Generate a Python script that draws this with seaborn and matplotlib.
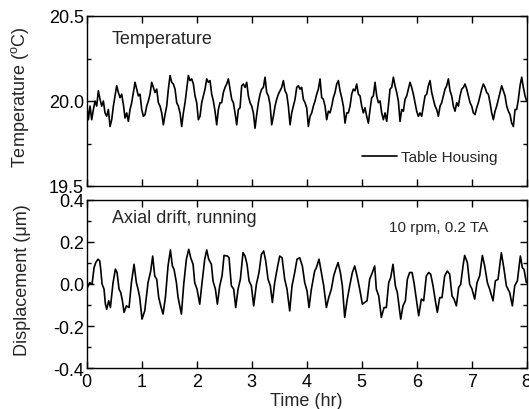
import numpy as np
import pandas as pd
import matplotlib
matplotlib.use("Agg")
import matplotlib.pyplot as plt
from matplotlib.ticker import MultipleLocator
import seaborn as sns

# ---------------- data ----------------
temperature = [
    19.99, 19.89, 19.97, 19.89, 19.95, 20.00, 19.97, 20.06, 20.01, 19.97, 20.00, 19.93, 19.91, 19.95,
    19.85, 19.89, 19.97, 20.03, 20.09, 20.05, 20.02, 20.04, 19.98, 19.90, 19.93, 19.88, 19.95, 19.99,
    20.05, 20.11, 20.07, 20.03, 20.04, 19.95, 19.91, 19.92, 19.97, 20.00, 20.04, 20.11, 20.08, 20.05,
    20.07, 19.99, 19.97, 19.93, 19.86, 19.92, 19.97, 20.07, 20.15, 20.11, 20.10, 20.07, 19.99, 19.97,
    19.93, 19.85, 19.93, 19.99, 20.07, 20.15, 20.12, 20.13, 20.10, 20.03, 19.99, 19.89, 19.91, 19.99,
    20.03, 20.07, 20.13, 20.11, 20.12, 20.04, 20.00, 19.94, 19.86, 19.95, 19.99, 19.99, 20.05, 20.08,
    20.10, 20.13, 20.07,
    20.01, 19.99, 19.93, 19.86, 19.95, 19.96, 20.09, 20.10, 20.08, 20.11, 20.03, 19.99, 19.97, 19.93,
    19.84, 19.92, 19.99, 20.04, 20.07, 20.08, 20.14, 20.05, 20.03, 19.98, 19.86, 19.91, 19.97, 20.01,
    20.04, 20.06, 20.08, 20.12, 20.06, 20.04, 19.97, 19.86, 19.93, 19.97, 20.01, 20.08, 20.09, 20.07,
    20.08, 20.01, 19.99, 19.96, 19.85, 19.91, 19.93, 19.97, 20.00, 20.04, 20.07, 20.13, 20.02, 20.01,
    19.97, 19.89, 19.94, 19.93, 19.97, 20.02, 20.05, 20.10, 20.12, 20.06, 20.02, 19.97, 19.87, 19.93,
    19.93, 19.97, 20.04, 20.07, 20.06, 20.10, 20.04, 20.03, 19.97, 19.93, 19.96, 19.91, 19.87, 19.95,
    20.02, 20.03, 20.11,
    20.03, 19.99, 20.00, 19.93, 19.89, 19.93, 19.88, 19.97, 20.07, 20.08, 20.14, 20.09, 20.05, 20.00,
    19.88, 19.95, 19.94, 20.01, 20.03, 20.07, 20.11, 20.08, 20.04, 19.99, 19.94, 19.91, 19.93, 19.91,
    19.97, 20.03, 20.04, 20.09, 20.12, 20.05, 20.01, 19.97, 19.95, 19.91, 19.97, 19.99, 20.03, 20.07,
    20.09, 20.13, 20.06, 20.03, 19.97, 19.94, 19.99, 19.97, 20.03, 20.07, 20.08, 20.10, 20.07, 20.03,
    19.99, 19.97, 19.93, 19.92, 19.96, 19.99, 20.03, 20.07, 20.10, 20.08, 20.05, 20.04, 19.99, 19.93,
    19.89, 19.94, 19.97, 20.01, 20.05, 20.09, 20.06, 20.03, 19.97, 19.94, 19.92, 19.87, 19.85, 19.95,
    19.95, 20.01, 20.09, 20.14, 20.08, 20.03, 20.00,
]
# uniformly sampled record spanning 0-8 hr
temp_time = np.linspace(0.0, 8.0, len(temperature))

disp_time = [
    0.000, 0.012, 0.055, 0.097, 0.134, 0.164, 0.206, 0.237, 0.255, 0.279, 0.315, 0.340, 0.364, 0.400,
    0.431, 0.479, 0.522, 0.552, 0.588, 0.619, 0.649, 0.679, 0.722, 0.770, 0.813, 0.861, 0.903, 0.934,
    0.964, 1.006, 1.055, 1.115, 1.164, 1.200, 1.237, 1.273, 1.309, 1.346, 1.388, 1.431, 1.479, 1.522,
    1.558, 1.588, 1.631, 1.661, 1.722, 1.764, 1.812, 1.855, 1.891, 1.934, 1.964, 2.006, 2.055, 2.097,
    2.146, 2.182, 2.218, 2.267, 2.297, 2.340, 2.376, 2.418, 2.461, 2.497, 2.558, 2.588,
    2.630, 2.673, 2.709, 2.752, 2.794, 2.842, 2.879, 2.915, 2.952, 2.994, 3.036, 3.085, 3.133, 3.176,
    3.218, 3.255, 3.297, 3.339, 3.376, 3.418, 3.461, 3.509, 3.552, 3.600, 3.642, 3.691, 3.733, 3.782,
    3.824, 3.873, 3.921, 3.964, 4.006, 4.042, 4.085, 4.145, 4.176, 4.224, 4.267, 4.309, 4.358, 4.400,
    4.448, 4.491, 4.527, 4.570, 4.612, 4.648, 4.691, 4.733, 4.782, 4.830, 4.873, 4.915, 4.964, 5.012,
    5.055, 5.097, 5.145, 5.194, 5.236,
    5.266, 5.309, 5.357, 5.406, 5.448, 5.491, 5.527, 5.569, 5.612, 5.648, 5.709, 5.751, 5.794, 5.830,
    5.872, 5.915, 5.951, 5.994, 6.036, 6.085, 6.127, 6.175, 6.218, 6.254, 6.297, 6.339, 6.375, 6.418,
    6.460, 6.509, 6.557, 6.600, 6.642, 6.678, 6.721, 6.763, 6.800, 6.842, 6.872, 6.921, 6.963, 7.006,
    7.054, 7.097, 7.145, 7.194, 7.236, 7.285, 7.327, 7.388, 7.430, 7.479, 7.539, 7.588, 7.630, 7.691,
    7.739, 7.782, 7.830, 7.885, 7.921, 7.951, 7.994,
]
displacement = [
    -0.010, -0.017, 0.006, -0.002, 0.077, 0.101, 0.117, 0.109, 0.069, 0.000, -0.025, -0.096, -0.120, -0.080,
    -0.112, 0.006, 0.070, 0.054, -0.025, -0.041, -0.080, -0.135, -0.104, -0.112, 0.006, 0.093, 0.006, -0.025,
    -0.064, -0.167, -0.128, 0.006, 0.061, 0.132, 0.038, 0.022, -0.064, -0.104, -0.143, -0.064, 0.085, 0.161,
    0.085, 0.069, 0.006, -0.064, -0.143, -0.002, 0.117, 0.164, 0.124, 0.093, 0.006, -0.025, -0.096, 0.006,
    0.117, 0.161, 0.117, 0.093, 0.014, -0.025, -0.096, -0.010, 0.038, 0.135, 0.132, 0.124,
    -0.009, -0.025, -0.112, -0.025, 0.022, 0.148, 0.132, 0.093, 0.014, -0.009, -0.104, -0.002, 0.054, 0.140,
    0.156, 0.109, 0.022, -0.009, -0.088, 0.006, 0.069, 0.132, 0.124, 0.022, -0.025, -0.128, -0.009, 0.054,
    0.117, 0.124, 0.085, 0.006, -0.033, -0.112, -0.025, 0.061, 0.077, 0.117, 0.054, -0.009, -0.112, -0.065,
    -0.025, 0.038, 0.069, 0.101, 0.054, -0.009, -0.159, -0.080, -0.009, 0.054, 0.085, 0.038, -0.025, -0.096,
    -0.088, -0.080, 0.022, 0.054, 0.085,
    -0.025, -0.057, -0.159, -0.112, -0.112, 0.006, 0.030, 0.093, -0.009, -0.041, -0.167, -0.104, -0.080, 0.022,
    0.054, 0.054, 0.006, -0.072, -0.151, -0.072, -0.080, 0.038, 0.054, 0.046, -0.009, -0.080, -0.135, -0.065,
    -0.065, 0.038, 0.061, 0.046, -0.057, -0.072, -0.104, -0.017, -0.002, 0.085, 0.135, 0.101, -0.002, -0.025,
    -0.072, 0.006, 0.038, 0.135, 0.085, 0.006, -0.025, -0.080, 0.014, 0.022, 0.148, 0.069, -0.009, -0.041,
    -0.104, -0.009, 0.014, 0.132, 0.077, 0.069, 0.006,
]

x_ticks = [0, 1, 2, 3, 4, 5, 6, 7, 8]
temp_ticks = [19.5, 20.0, 20.5]
disp_ticks = [-0.4, -0.2, 0.0, 0.2, 0.4]

# ---------------- styling ----------------
sns.set_style("ticks")
plt.rcParams["font.family"] = ["Liberation Sans", "DejaVu Sans"]
plt.rcParams["mathtext.fontset"] = "custom"
plt.rcParams["mathtext.rm"] = "Liberation Sans"
plt.rcParams["mathtext.it"] = "Liberation Sans:italic"
plt.rcParams["axes.edgecolor"] = "black"
plt.rcParams["axes.linewidth"] = 1.0

W, H = 529, 410
fig = plt.figure(figsize=(W / 100, H / 100), dpi=100)
left = 86.7 / W
width = (526.7 - 86.7) / W
ax1 = fig.add_axes([left, 1 - 187.0 / H, width, 170.0 / H])
ax2 = fig.add_axes([left, 1 - 369.3 / H, width, 168.8 / H])

df_t = pd.DataFrame({"time": temp_time, "temp": temperature})
df_d = pd.DataFrame({"time": disp_time, "disp": displacement})

sns.lineplot(data=df_t, x="time", y="temp", ax=ax1, color="black", lw=1.2,
             estimator=None, label="Table Housing")
sns.lineplot(data=df_d, x="time", y="disp", ax=ax2, color="black", lw=1.2,
             estimator=None)

for ax in (ax1, ax2):
    ax.set_xlim(0, 8)
    ax.set_xticks(x_ticks)
    ax.tick_params(axis="both", which="both", direction="in", top=True, right=True,
                   colors="black", labelsize=13)
    ax.tick_params(axis="both", which="major", length=5, width=1)
    ax.tick_params(axis="both", which="minor", length=3, width=1)
    ax.tick_params(axis="y", pad=2)
    for s in ax.spines.values():
        s.set_visible(True)
        s.set_color("black")

ax1.set_ylim(19.5, 20.5)
ax1.set_yticks(temp_ticks)
ax1.set_yticklabels([f"{v:.1f}" for v in temp_ticks])
ax1.yaxis.set_minor_locator(MultipleLocator(0.25))
ax1.tick_params(axis="x", labelbottom=False)
ax1.set_xlabel("")
ax1.set_ylabel(r"Temperature ($^{\rm o}$C)", fontsize=13)

ax2.set_ylim(-0.4, 0.4)
ax2.set_yticks(disp_ticks)
ax2.set_yticklabels([f"{v:.1f}" for v in disp_ticks])
ax2.yaxis.set_minor_locator(MultipleLocator(0.1))
ax2.set_xticklabels([str(v) for v in x_ticks])
ax2.set_xlabel("Time (hr)", fontsize=13, labelpad=1)
ax2.set_ylabel("Displacement (\u03bcm)", fontsize=13)

for ax in (ax1, ax2):
    ax.yaxis.set_label_coords(-0.127, 0.53)

ax1.text(0.057, 0.841, "Temperature", transform=ax1.transAxes, fontsize=13,
         va="baseline", ha="left")
ax2.text(0.057, 0.865, "Axial drift, running", transform=ax2.transAxes, fontsize=13,
         va="baseline", ha="left")
ax2.text(0.688, 0.815, "10 rpm, 0.2 TA", transform=ax2.transAxes, fontsize=11,
         va="baseline", ha="left")

ax1.legend(loc="center left", bbox_to_anchor=(0.625, 0.168), frameon=False,
           fontsize=11, handlelength=2.3, handletextpad=0.3, borderpad=0,
           borderaxespad=0)

fig.savefig("out.png", dpi=100)
